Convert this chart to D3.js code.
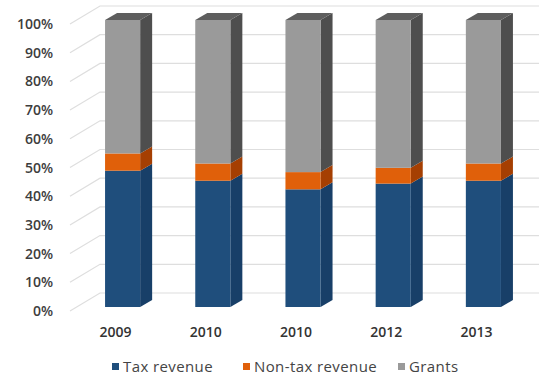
<!DOCTYPE html>
<html><head><meta charset="utf-8">
<script src="https://cdn.jsdelivr.net/npm/d3@7"></script>
<style>body{margin:0;background:#fff}svg{display:block}</style>
</head><body>
<script>
const categories = ["2009","2010","2010","2012","2013"];
const taxRevenue = [47.5, 44, 41, 43, 44];
const nonTaxRevenue = [6, 6, 6, 5.5, 6];
const grants = [46.5, 50, 53, 51.5, 50];
const seriesNames = ["Tax revenue","Non-tax revenue","Grants"];
const yTicks = [0,10,20,30,40,50,60,70,80,90,100];

const W=539,H=376;
const svg=d3.select("body").append("svg").attr("width",W).attr("height",H);
const font="'Open Sans', sans-serif";

const colors={front:["#1f4e7c","#e0600a","#9a9a9a"],side:["#183f68","#a53f02","#4e4e4e"],top:["#5e5e5e"]};
const x=d3.scaleBand().domain(d3.range(categories.length)).range([78,528]).paddingInner(0.611).paddingOuter(0.3);
const y=d3.scaleLinear().domain([0,100]).range([307,20]);
const yBack=d3.scaleLinear().domain([0,100]).range([293,6]);
const dx=12, dy=-7;

// grid
const g=svg.append("g");
yTicks.forEach(t=>{
  const yb=yBack(t);
  g.append("path").attr("d",`M70,${yb+18}L100,${yb}L539,${yb}`).attr("fill","none").attr("stroke","#dedede").attr("stroke-width",1.2);
  g.append("text").attr("x",53).attr("y",yb+23).attr("text-anchor","end").attr("font-family",font).attr("font-weight",600).attr("font-size",14).attr("fill","#3d3d3d").text(t+"%");
});

const stack=d3.stack().keys([0,1,2]).value((d,k)=>d[k])(categories.map((c,i)=>[taxRevenue[i],nonTaxRevenue[i],grants[i]]));
stack.forEach((layer,si)=>{
  layer.forEach((d,i)=>{
    const x0=x(i), x1=x(i)+x.bandwidth();
    const yb=y(d[0]), yt=y(d[1]);
    svg.append("polygon").attr("points",`${x1},${yb} ${x1+dx},${yb+dy} ${x1+dx},${yt+dy} ${x1},${yt}`).attr("fill",colors.side[si]);
    svg.append("rect").attr("x",x0).attr("y",yt).attr("width",x.bandwidth()).attr("height",yb-yt).attr("fill",colors.front[si]);
    if(si===2){
      svg.append("polygon").attr("points",`${x0},${yt} ${x0+dx},${yt+dy} ${x1+dx},${yt+dy} ${x1},${yt}`).attr("fill",colors.top[0]);
    }
  });
});

categories.forEach((c,i)=>{
  svg.append("text").attr("x",x(i)+x.bandwidth()/2-7).attr("y",337).attr("text-anchor","middle").attr("font-family",font).attr("font-weight",600).attr("font-size",14).attr("fill","#333").text(c);
});

// legend
const legX=[112,243,398];
seriesNames.forEach((n,i)=>{
  svg.append("rect").attr("x",legX[i]).attr("y",363).attr("width",7).attr("height",7).attr("fill",colors.front[i]);
  svg.append("text").attr("x",legX[i]+11).attr("y",372).attr("font-family",font).attr("font-size",15).attr("letter-spacing",0.4).attr("fill","#444").text(n);
});
</script>
</body></html>
